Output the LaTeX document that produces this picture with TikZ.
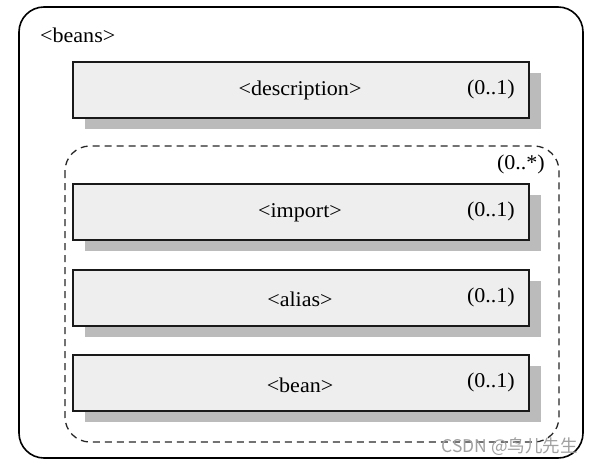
\documentclass[tikz,border=0pt]{standalone}
\usepackage{fontspec}
\setmainfont{Liberation Serif}[FakeStretch=1.05]
\newfontfamily\cjk{Noto Sans CJK SC}
\usetikzlibrary{shadows}
\definecolor{boxfill}{RGB}{238,238,238}
\definecolor{shadowgray}{RGB}{187,187,187}
\definecolor{wm}{RGB}{160,160,160}
\tikzset{
  elem/.style={draw=black!90, line width=2pt, fill=boxfill, minimum width=456pt, minimum height=56pt, inner sep=0pt,
    drop shadow={shadow xshift=12pt, shadow yshift=-11pt, fill=shadowgray, opacity=1}},
  lbl/.style={font=\fontsize{21}{24}\selectfont, inner sep=0pt},
}
\begin{document}
\begin{tikzpicture}[x=1pt,y=-1pt]
\useasboundingbox (0,0) rectangle (594,466);
\draw[line width=1.6pt, rounded corners=25pt] (19,7) rectangle (583,458);
\node[lbl, anchor=west] (beans) at (40,35) {<beans>};
\draw[dashed, dash pattern=on 7pt off 5pt, line width=1.3pt, rounded corners=25pt, draw=black!85] (65,146) rectangle (559,442);
\node[lbl, anchor=east] (many) at (545,164) {(0..*)};
\node[elem] (desc) at (301,90) {};
\node[elem] (imp) at (301,211.5) {};
\node[elem] (alias) at (301,297.5) {};
\node[elem] (bean) at (301,383) {};
\node[lbl] (desct) at (300,90) {<description>};
\node[lbl] (impt) at (300,213) {<import>};
\node[lbl] (aliast) at (300,299) {<alias>};
\node[lbl] (beant) at (300,385) {<bean>};
\node[lbl, anchor=east] (descm) at (515,89) {(0..1)};
\node[lbl, anchor=east] (impm) at (515,211) {(0..1)};
\node[lbl, anchor=east] (aliasm) at (515,297) {(0..1)};
\node[lbl, anchor=east] (beanm) at (515,382) {(0..1)};
\node[anchor=east, inner sep=0pt, text=wm, font=\cjk\fontsize{17.5}{20}\selectfont] (wmark) at (578,447) {CSDN @鸟儿先生};
\end{tikzpicture}
\end{document}
